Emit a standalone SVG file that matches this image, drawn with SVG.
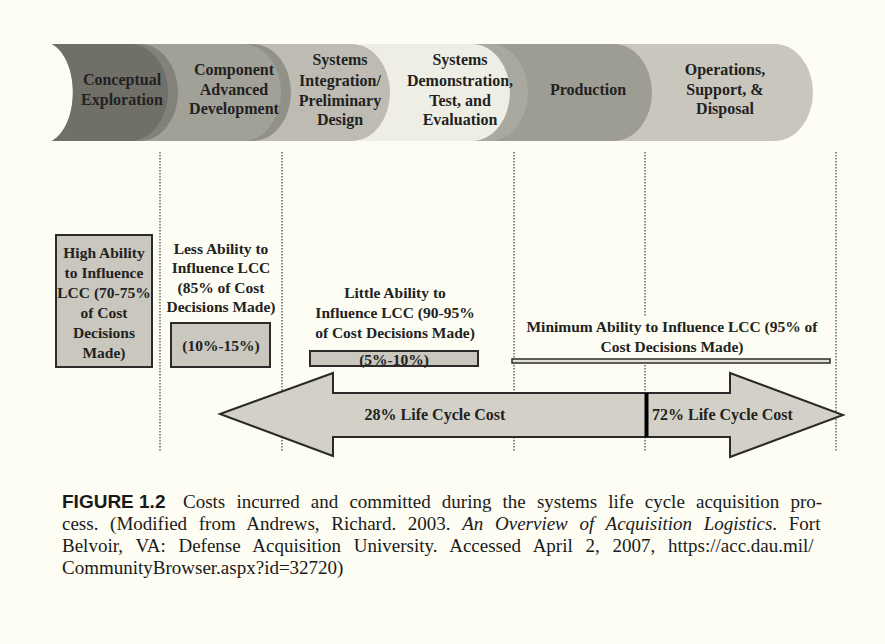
<svg xmlns="http://www.w3.org/2000/svg" width="885" height="644" viewBox="0 0 885 644">
<style>
.lbl{font-family:"Liberation Serif","Times New Roman",serif;font-weight:bold;fill:#222;text-anchor:middle}
.ph{font-size:16px}
.bx{font-size:15.5px}
.box{fill:#c9c7be;stroke:#2b2b2b;stroke-width:2}
.dot{stroke:#444;stroke-width:1.2;stroke-dasharray:1.5 1.5;fill:none}
.cap{font-family:"Liberation Serif","Times New Roman",serif;font-size:19px;fill:#1a1a1a}
</style>
<rect width="885" height="644" fill="#fdfdf3"/>
<g id="phases">
  <g id="operations">
    <path d="M600,44 H775 A38 48.5 0 0 1 775,141 H600 Z" fill="#c9c7bd"/>
    <text class="lbl ph" x="725" y="75">Operations,</text>
    <text class="lbl ph" x="725" y="95">Support, &amp;</text>
    <text class="lbl ph" x="725" y="114">Disposal</text>
  </g>
  <g id="production">
    <path d="M480,44 H614 A38 48.5 0 0 1 614,141 H480 Z" fill="#9e9d94"/>
    <text class="lbl ph" x="588" y="95">Production</text>
  </g>
  <g id="demonstration">
    <path d="M400,44 H490 A38 48.5 0 0 1 490,141 H400 Z" fill="#aaa9a0"/>
    <path d="M360,44 H472 A38 48.5 0 0 1 472,141 H360 Z" fill="#efeee5"/>
    <text class="lbl ph" x="460" y="65">Systems</text>
    <text class="lbl ph" x="460" y="86">Demonstration,</text>
    <text class="lbl ph" x="460" y="106">Test, and</text>
    <text class="lbl ph" x="460" y="125">Evaluation</text>
  </g>
  <g id="integration">
    <path d="M250,44 H352 A38 48.5 0 0 1 352,141 H250 Z" fill="#bebcb2"/>
    <text class="lbl ph" x="340" y="65">Systems</text>
    <text class="lbl ph" x="340" y="86">Integration/</text>
    <text class="lbl ph" x="340" y="106">Preliminary</text>
    <text class="lbl ph" x="340" y="125">Design</text>
  </g>
  <g id="component">
    <path d="M120,44 H253 A38 48.5 0 0 1 253,141 H120 Z" fill="#929188"/>
    <path d="M120,44 H243 A38 48.5 0 0 1 243,141 H120 Z" fill="#a2a198"/>
    <text class="lbl ph" x="234" y="75">Component</text>
    <text class="lbl ph" x="234" y="95">Advanced</text>
    <text class="lbl ph" x="234" y="114">Development</text>
  </g>
  <g id="conceptual">
    <path d="M52,44 H140 A38 48.5 0 0 1 140,141 H52 C80,125 80,60 52,44 Z" fill="#83827a"/>
    <path d="M52,44 H130 A38 48.5 0 0 1 130,141 H52 C80,125 80,60 52,44 Z" fill="#706f68"/>
    <text class="lbl ph" x="122" y="85">Conceptual</text>
    <text class="lbl ph" x="122" y="105">Exploration</text>
  </g>
</g>
<g id="connectors">
  <line class="dot" x1="160" y1="152" x2="160" y2="452"/>
  <line class="dot" x1="282" y1="152" x2="282" y2="452"/>
  <line class="dot" x1="514" y1="152" x2="514" y2="452"/>
  <line class="dot" x1="645" y1="152" x2="645" y2="317"/>
  <line class="dot" x1="645" y1="365" x2="645" y2="452"/>
  <line class="dot" x1="836" y1="152" x2="836" y2="452"/>
</g>
<g id="high-ability">
  <rect class="box" x="56" y="235" width="96" height="132"/>
  <text class="lbl bx" x="104" y="258">High Ability</text>
  <text class="lbl bx" x="104" y="278">to Influence</text>
  <text class="lbl bx" x="104" y="298">LCC (70-75%</text>
  <text class="lbl bx" x="104" y="318">of Cost</text>
  <text class="lbl bx" x="104" y="338">Decisions</text>
  <text class="lbl bx" x="104" y="358">Made)</text>
</g>
<g id="less-ability">
  <text class="lbl bx" x="221" y="254">Less Ability to</text>
  <text class="lbl bx" x="221" y="273">Influence LCC</text>
  <text class="lbl bx" x="221" y="293">(85% of Cost</text>
  <text class="lbl bx" x="221" y="312">Decisions Made)</text>
  <rect class="box" x="171" y="323" width="99" height="44"/>
  <text class="lbl bx" x="221" y="351">(10%-15%)</text>
</g>
<g id="little-ability">
  <text class="lbl bx" x="395" y="298">Little Ability to</text>
  <text class="lbl bx" x="395" y="318">Influence LCC (90-95%</text>
  <text class="lbl bx" x="395" y="338">of Cost Decisions Made)</text>
  <rect class="box" x="310" y="351" width="168" height="15"/>
  <text class="lbl bx" x="394" y="365">(5%-10%)</text>
</g>
<g id="minimum-ability">
  <text class="lbl bx" x="672" y="332">Minimum Ability to Influence LCC (95% of</text>
  <text class="lbl bx" x="672" y="352">Cost Decisions Made)</text>
  <rect x="512" y="359" width="318" height="4" fill="#e2e0d7" stroke="#2b2b2b" stroke-width="1.5"/>
</g>
<g id="cost-arrow">
  <polygon points="220,414 333,373 333,393 730,393 730,373 843,415 730,457 730,437 333,437 333,456" fill="#d3d1c7" stroke="#2a2a2a" stroke-width="2" stroke-linejoin="miter"/>
  <line x1="646.5" y1="393" x2="646.5" y2="437" stroke="#000" stroke-width="4"/>
  <text class="lbl" style="font-size:16px" x="435" y="420">28% Life Cycle Cost</text>
  <text class="lbl" style="font-size:16px;text-anchor:start" x="652" y="420">72% Life Cycle Cost</text>
</g>
<g id="caption">
  <text x="62" y="508" font-family="Liberation Sans, Arial, sans-serif" font-weight="bold" font-size="19" fill="#1a1a1a">FIGURE 1.2</text>
  <text class="cap" x="183" y="508" word-spacing="6.4">Costs incurred and committed during the systems life cycle acquisition pro-</text>
  <text class="cap" x="62" y="530" word-spacing="6.9">cess. (Modified from Andrews, Richard. 2003. <tspan font-style="italic">An Overview of Acquisition Logistics</tspan>. Fort</text>
  <text class="cap" x="62" y="552" word-spacing="8">Belvoir, VA: Defense Acquisition University. Accessed April 2, 2007, https://acc.dau.mil/</text>
  <text class="cap" x="62" y="574">CommunityBrowser.aspx?id=32720)</text>
</g>
</svg>
